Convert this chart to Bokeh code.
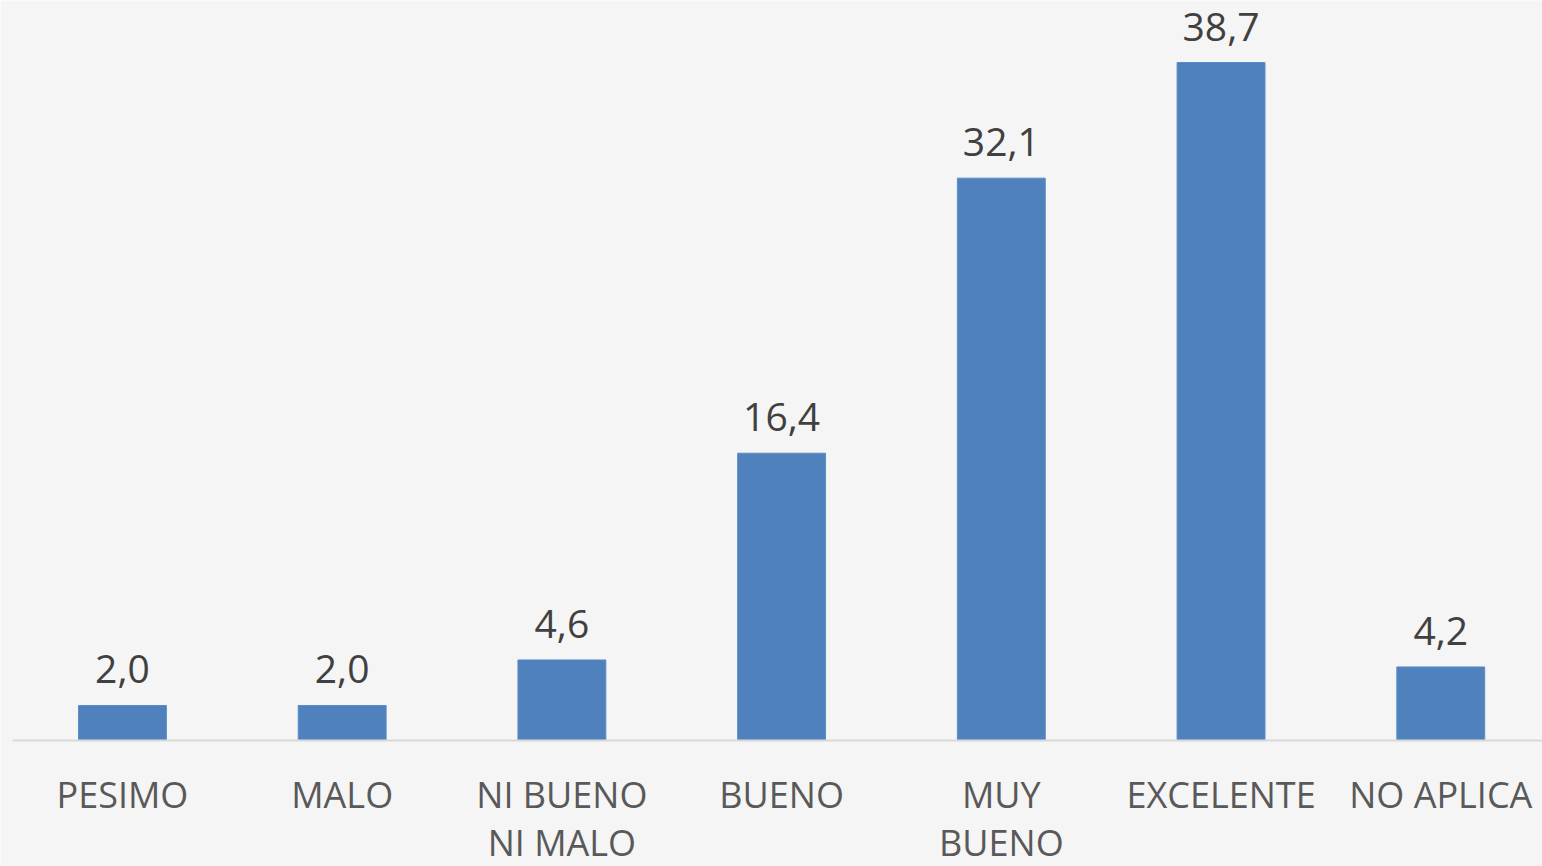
from bokeh.plotting import figure
from bokeh.models import ColumnDataSource, Range1d
from bokeh.core.properties import value
from bokeh.embed import file_html
from bokeh.resources import INLINE

categories = ["PESIMO", "MALO", "NI BUENO\nNI MALO", "BUENO", "MUY\nBUENO", "EXCELENTE", "NO APLICA"]
values = [2.0, 2.0, 4.6, 16.4, 32.1, 38.7, 4.2]
value_labels = ["2,0", "2,0", "4,6", "16,4", "32,1", "38,7", "4,2"]

xs = list(range(len(categories)))
line1 = [c.split("\n")[0] for c in categories]
line2 = [c.split("\n")[1] if "\n" in c else "" for c in categories]

src = ColumnDataSource(dict(x=xs, top=values, lab=value_labels, l1=line1, l2=line2,
                            zero=[0] * len(xs)))

BG = "#f5f5f5"
p = figure(width=1542, height=866, output_backend="svg", toolbar_location=None,
           x_range=Range1d(-0.555, 6.463), y_range=Range1d(-7.19, 42.24),
           min_border=0, background_fill_color=BG, border_fill_color=BG)
p.axis.visible = False
p.grid.visible = False
p.outline_line_color = None

p.vbar(x="x", top="top", bottom=0, width=0.40, source=src, fill_color="#4f81bd",
       line_color="#5b8cc8", line_width=1)

p.segment(x0=-0.5, y0=0, x1=6.6, y1=0, line_color="#d9d9d9", line_width=2)

p.text(x="x", y="top", text="lab", source=src, text_align="center",
       text_baseline="alphabetic", y_offset=-36, text_font=value("Open Sans"),
       text_font_size="39px", text_color="#404040")

p.text(x="x", y="zero", text="l1", source=src, text_align="center",
       text_baseline="alphabetic", y_offset=54, text_font=value("Open Sans"),
       text_font_size="36px", text_color="#595959")
p.text(x="x", y="zero", text="l2", source=src, text_align="center",
       text_baseline="alphabetic", y_offset=102, text_font=value("Open Sans"),
       text_font_size="36px", text_color="#595959")

open("out.html", "w").write(file_html(p, INLINE))
